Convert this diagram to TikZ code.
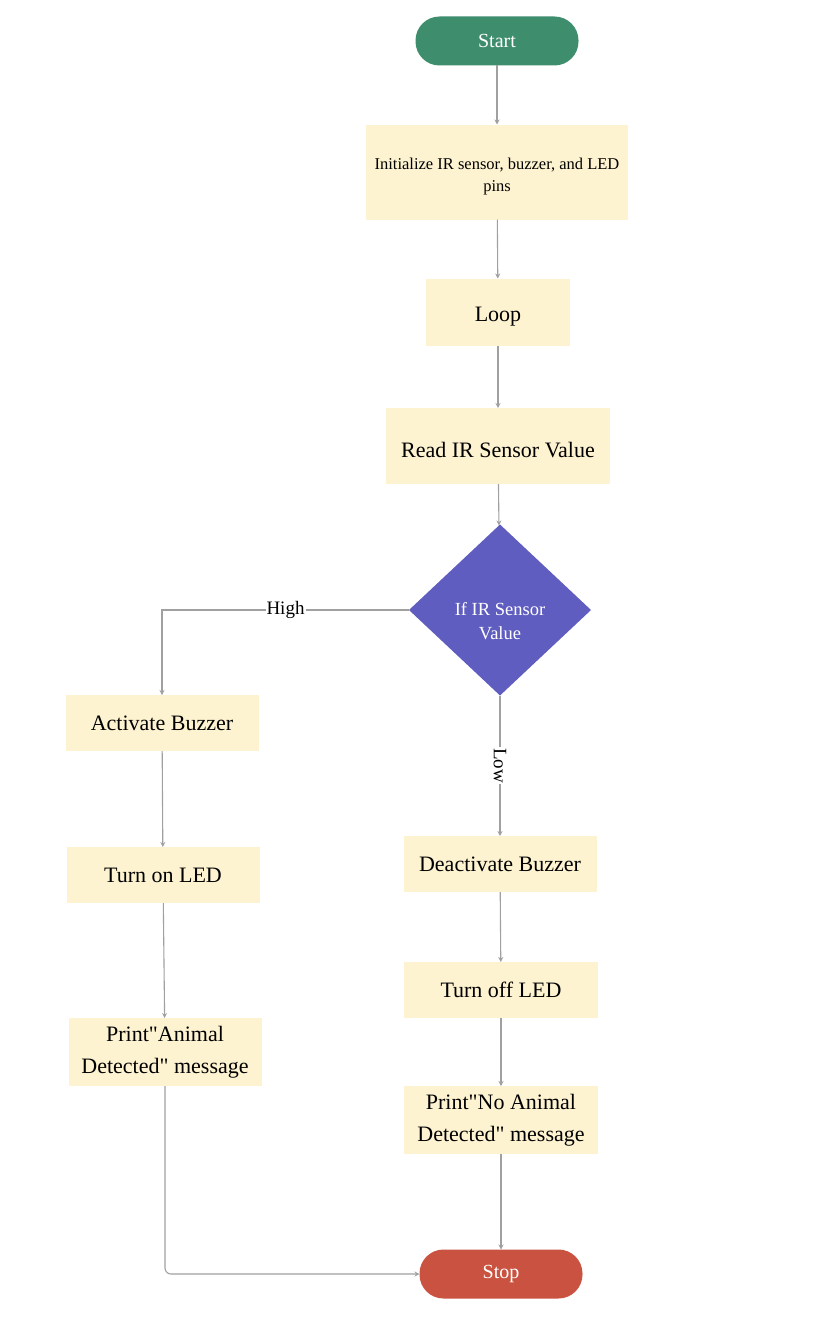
\documentclass[tikz,border=0pt]{standalone}
\usepackage{fontspec}
\setmainfont{Liberation Serif}
\definecolor{startc}{RGB}{62,142,110}
\definecolor{stopc}{RGB}{201,83,64}
\definecolor{dec}{RGB}{95,93,191}
\definecolor{boxc}{RGB}{253,243,208}
\definecolor{linec}{RGB}{160,160,160}
\usepackage{tikz}
\usetikzlibrary{arrows.meta}
\usetikzlibrary{shapes.geometric}
\usetikzlibrary{positioning}
\newcommand*{\dq}{\textquotedbl}
\tikzstyle{base}=[x=1pt, y=-1pt, inner sep=0pt, outer sep=0pt]
\tikzstyle{term}=[rectangle, rounded corners=24pt, minimum width=163pt, minimum height=49pt, text=white, font=\fontsize{20}{24}\selectfont]
\tikzstyle{proc}=[rectangle, fill=boxc, align=center, font=\fontsize{22}{32}\selectfont]
\tikzstyle{cond}=[diamond, fill=dec, aspect=1.06, minimum width=182pt, minimum height=171pt, text=white, align=center, text height=59pt, font=\fontsize{18.5}{24}\selectfont]
\tikzstyle{flow}=[linec, line width=1.1pt, -{Stealth[length=5pt,width=5pt]}]
\tikzstyle{tag}=[fill=white, text=black, inner sep=1pt, font=\fontsize{19}{22}\selectfont]

\begin{document}
\begin{tikzpicture}[base]
    \path [use as bounding box] (0,0) rectangle (830,1322);
    % main column
    \node [term, fill=startc] (start) at (497,41) {Start};
    \node [proc, minimum width=262pt, minimum height=95pt, text height=43.5pt, font=\fontsize{16.5}{22}\selectfont] (init) at (497,172) {Initialize IR sensor, buzzer, and LED\\pins};
    \node [proc, minimum width=144pt, minimum height=67pt, text height=23pt] (loop) at (498,312) {Loop};
    \node [proc, minimum width=224pt, minimum height=76pt, text height=23pt] (read) at (498,446) {Read IR Sensor Value};
    \node [cond] (check) at (500,610) {If IR Sensor\\Value};
    % high branch
    \node [proc, minimum width=193pt, minimum height=56pt] (buzon) at (162,723) {Activate Buzzer};
    \node [proc, minimum width=193pt, minimum height=56pt] (ledon) at (163,875) {Turn on LED};
    \node [proc, minimum width=193pt, minimum height=68pt] (msgon) at (165,1052) {Print\dq Animal\\Detected\dq{} message};
    % low branch
    \node [proc, minimum width=193pt, minimum height=56pt] (buzoff) at (500,864) {Deactivate Buzzer};
    \node [proc, minimum width=194pt, minimum height=56pt] (ledoff) at (501,990) {Turn off LED};
    \node [proc, minimum width=194pt, minimum height=68pt] (msgoff) at (501,1120) {Print\dq No Animal\\Detected\dq{} message};
    \node [term, fill=stopc] (stop) at (501,1274) {Stop};
    % connectors
    \draw [flow] (start) -- (init);
    \draw [flow] (init) -- (loop);
    \draw [flow] (loop) -- (read);
    \draw [flow] (read) -- (check);
    \draw [flow] (check.west) -| node [tag, pos=0.25] {High} (buzon.north);
    \draw [flow] (check.south) -- node [tag, rotate=-90, pos=0.5] {Low} (buzoff.north);
    \draw [flow] (buzon) -- (ledon);
    \draw [flow] (ledon) -- (msgon);
    \draw [flow] (buzoff) -- (ledoff);
    \draw [flow] (ledoff) -- (msgoff);
    \draw [flow] (msgoff) -- (stop);
    \draw [flow, rounded corners=6pt] (msgon.south) |- (stop.west);
\end{tikzpicture}
\end{document}
